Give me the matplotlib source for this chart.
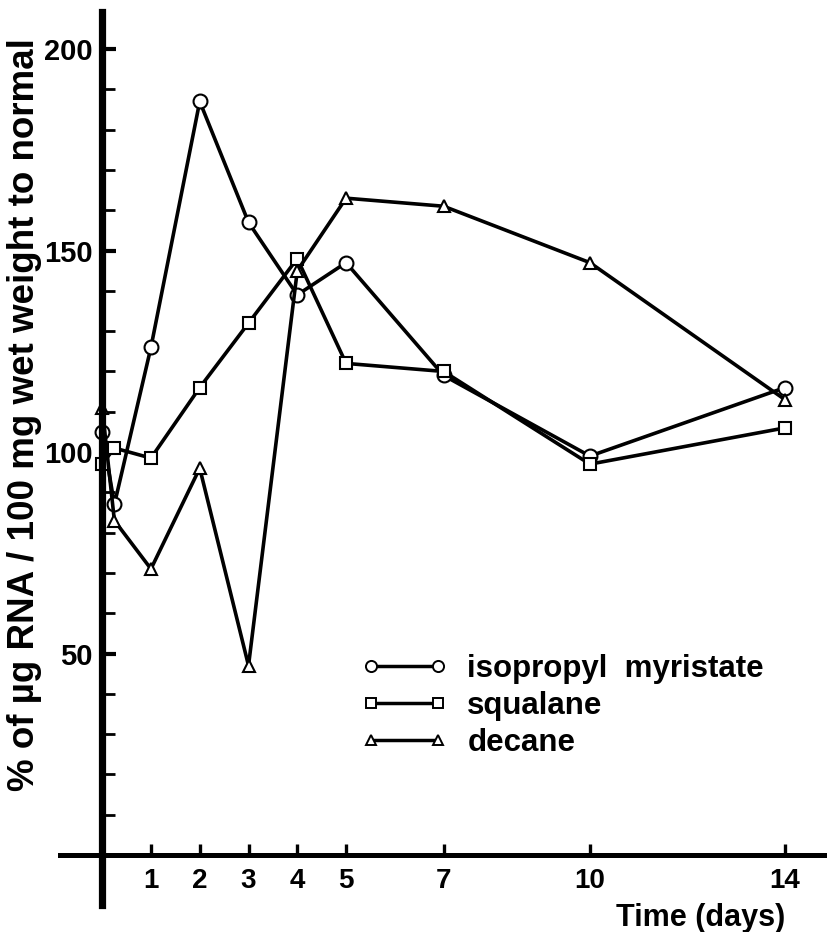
import matplotlib
matplotlib.use("Agg")
import matplotlib.pyplot as plt
from matplotlib.lines import Line2D
from matplotlib.ticker import FixedLocator

plt.rcParams['font.family'] = ['Liberation Sans', 'DejaVu Sans']
plt.rcParams['font.weight'] = 'bold'

# ---- data ----
days = [0, 0.25, 1, 2, 3, 4, 5, 7, 10, 14]
isopropyl_myristate = [105, 87, 126, 187, 157, 139, 147, 119, 99, 116]
squalane = [97, 101, 98.5, 116, 132, 148, 122, 120, 97, 106]
decane = [111, 83, 71, 96, 47, 145, 163, 161, 147, 113]

series_labels = ["isopropyl  myristate", "squalane", "decane"]
x_major_ticks = [1, 2, 3, 4, 5, 7, 10, 14]
x_minor_ticks = [6, 8, 9, 11, 12, 13]
y_major_ticks = [50, 100, 150, 200]
y_minor_ticks = [10, 20, 30, 40, 60, 70, 80, 90, 110, 120, 130, 140, 160, 170, 180, 190]
y_label = "% of µg RNA / 100 mg wet weight to normal"
x_label = "Time (days)"

W, H = 827, 932
fig = plt.figure(figsize=(W / 100, H / 100), dpi=100)
ax = fig.add_axes([60 / W, 1 - 905 / H, (825 - 60) / W, (905 - 12) / H])
ax.set_xlim(-0.865, 14.82)
ax.set_ylim(-12.4, 209.2)

for s in ("top", "right"):
    ax.spines[s].set_visible(False)
ax.spines["left"].set_position(("data", 0))
ax.spines["bottom"].set_position(("data", 0))
ax.spines["left"].set_linewidth(5.2)
ax.spines["bottom"].set_linewidth(3.6)
ax.spines["left"].set_zorder(5)
ax.spines["bottom"].set_zorder(5)

common = dict(color="black", linewidth=2.6, markerfacecolor="white",
              markeredgecolor="black", markeredgewidth=1.5, clip_on=False, zorder=3)
ax.plot(days, isopropyl_myristate, marker="o", markersize=10, **common)
ax.plot(days, squalane, marker="s", markersize=8.5, **common)
ax.plot(days, decane, marker="^", markersize=9, **common)

# ticks
ax.xaxis.set_major_locator(FixedLocator(x_major_ticks))
ax.xaxis.set_minor_locator(FixedLocator(x_minor_ticks))
ax.yaxis.set_major_locator(FixedLocator(y_major_ticks))
ax.yaxis.set_minor_locator(FixedLocator(y_minor_ticks))
ax.tick_params(axis="x", which="major", direction="in", length=8, width=2.4, pad=9,
               labelsize=20)
ax.tick_params(axis="x", which="minor", direction="inout", length=3, width=1.0,
               color="#555555")
ax.tick_params(axis="y", which="major", direction="in", length=10, width=3.0, pad=7,
               labelsize=21)
ax.tick_params(axis="y", which="minor", direction="in", length=9, width=2.0)
for lab in ax.get_xticklabels():
    lab.set_fontweight("bold")
for lab in ax.get_yticklabels():
    lab.set_fontweight("bold")

# axis labels
ax.set_ylabel(y_label, fontsize=26.5, fontweight="bold", va="center", ha="center")
ax.yaxis.set_label_coords((25 - 60) / 765, (905 - 415) / 893)
ax.set_xlabel(x_label, fontsize=22, fontweight="bold", va="center", ha="center")
ax.xaxis.set_label_coords((701 - 60) / 765, (905 - 918) / 893)

# legend
handles = [
    Line2D([], [], color="black", lw=2.5, marker="o", markersize=8,
           markerfacecolor="white", markeredgewidth=1.4),
    Line2D([], [], color="black", lw=2.5, marker="s", markersize=7,
           markerfacecolor="white", markeredgewidth=1.4),
    Line2D([], [], color="black", lw=2.5, marker="^", markersize=7.5,
           markerfacecolor="white", markeredgewidth=1.4),
]
leg = fig.legend(handles, series_labels, loc="upper left",
                 bbox_to_anchor=(362 / W, 1 - 654 / H), frameon=False,
                 numpoints=2, handlelength=2.72, handletextpad=0.65,
                 labelspacing=0.22, borderpad=0, borderaxespad=0,
                 prop={"weight": "bold", "size": 22.5})

fig.savefig("out.png", dpi=100)
